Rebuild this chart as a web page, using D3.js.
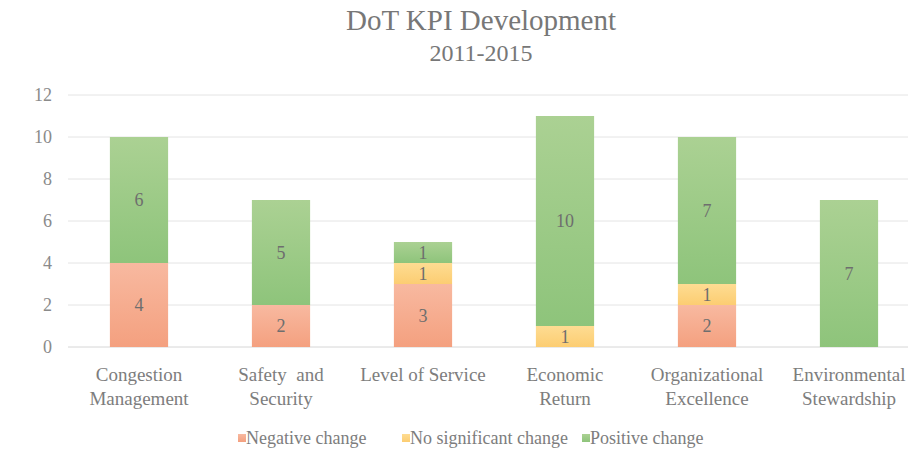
<!DOCTYPE html>
<html>
<head>
<meta charset="utf-8">
<script src="https://cdn.jsdelivr.net/npm/d3@7"></script>
</head>
<body style="margin:0">
<svg id="chart" width="913" height="457"></svg>
<script>
const categories = [
    ["Congestion", "Management"],
    ["Safety\u00a0 and", "Security"],
    ["Level of Service"],
    ["Economic", "Return"],
    ["Organizational", "Excellence"],
    ["Environmental", "Stewardship"]
];
const negative = [4, 2, 3, 0, 2, 0];
const noChange = [0, 0, 1, 1, 1, 0];
const positive = [6, 5, 1, 10, 7, 7];
const seriesNames = ["Negative change", "No significant change", "Positive change"];
const yTicks = [0, 2, 4, 6, 8, 10, 12];

const colors = {
    "Negative change": ["#f8b9a0", "#f4a07f"],
    "No significant change": ["#fedc92", "#fccd72"],
    "Positive change": ["#abd193", "#8ec47b"]
};

const svg = d3.select("#chart");

function serif(sel, size) {
    return sel.style("font-family", d => "'Liberation Serif'")
        .style("font-size", size + "px");
}

const x = d3.scaleBand()
    .domain(d3.range(categories.length))
    .range([68, 920])
    .paddingInner(0.59)
    .paddingOuter(0.295);
const y = d3.scaleLinear().domain([0, 12]).range([347, 95]);

// gradients
const defs = svg.append("defs");
seriesNames.forEach((s, i) => {
    const g = defs.append("linearGradient")
        .attr("id", "grad" + i)
        .attr("x1", 0).attr("y1", 0).attr("x2", 0).attr("y2", 1);
    g.append("stop").attr("offset", "0%").attr("stop-color", colors[s][0]);
    g.append("stop").attr("offset", "100%").attr("stop-color", colors[s][1]);
});

// title
serif(svg.append("text"), 29)
    .attr("x", 481).attr("y", 30)
    .attr("text-anchor", "middle")
    .style("fill", "#777777")
    .text("DoT KPI Development");
serif(svg.append("text"), 24)
    .attr("x", 481).attr("y", 61)
    .attr("text-anchor", "middle")
    .style("fill", "#777777")
    .text("2011-2015");

// grid + y axis
svg.append("g")
    .selectAll("line")
    .data(yTicks)
    .join("line")
    .attr("x1", 68).attr("x2", 908)
    .attr("y1", d => y(d)).attr("y2", d => y(d))
    .style("stroke", d => d === 0 ? "#d6d6d6" : "#e4e4e4")
    .style("stroke-width", "1px");

serif(svg.append("g")
    .selectAll("text")
    .data(yTicks)
    .join("text"), 18)
    .attr("x", 52)
    .attr("y", d => y(d) + 6)
    .attr("text-anchor", "end")
    .style("fill", "#8a8a8a")
    .text(d => d);

// stacked bars
const rows = categories.map((c, i) => ({
    "i": i,
    "Negative change": negative[i],
    "No significant change": noChange[i],
    "Positive change": positive[i]
}));
const stacked = d3.stack().keys(seriesNames)(rows);

const layers = svg.append("g")
    .selectAll("g")
    .data(stacked)
    .join("g")
    .style("fill", (d, i) => `url(#grad${i})`);

layers.selectAll("rect")
    .data(d => d.filter(p => p[1] - p[0] > 0))
    .join("rect")
    .attr("x", d => x(d.data.i))
    .attr("width", x.bandwidth())
    .attr("y", d => y(d[1]))
    .attr("height", d => y(d[0]) - y(d[1]));

serif(layers.selectAll("text")
    .data(d => d.filter(p => p[1] - p[0] > 0))
    .join("text"), 18)
    .attr("x", d => x(d.data.i) + x.bandwidth() / 2)
    .attr("y", d => (y(d[0]) + y(d[1])) / 2 + 6)
    .attr("text-anchor", "middle")
    .style("fill", "#6e6e6e")
    .text(d => d[1] - d[0]);

// category labels, one text per line
const catRows = [];
categories.forEach((lines, i) => lines.forEach((t, j) => catRows.push({ i, j, t })));
serif(svg.append("g")
    .selectAll("text")
    .data(catRows)
    .join("text"), 19)
    .attr("x", d => x(d.i) + x.bandwidth() / 2)
    .attr("y", d => 381 + d.j * 24)
    .attr("text-anchor", "middle")
    .style("fill", "#7d7d7d")
    .text(d => d.t);

// legend
const legendX = [238, 402, 582];
const legend = svg.append("g")
    .selectAll("g")
    .data(seriesNames)
    .join("g")
    .attr("transform", (d, i) => `translate(${legendX[i]} 438)`);
legend.append("rect")
    .attr("x", 0).attr("y", -4)
    .attr("width", 8).attr("height", 8)
    .style("fill", (d, i) => `url(#grad${i})`);
serif(legend.append("text"), 18)
    .attr("x", 8).attr("y", 6)
    .style("fill", "#7d7d7d")
    .text(d => d);

// re-apply once the face is ready, in case it loads late
if (document.fonts && document.fonts.load) {
    document.fonts.load("18px 'Liberation Serif'").then(() => {
        svg.selectAll("text").style("font-family", "'Liberation Serif'");
    });
}
</script>
</body>
</html>
